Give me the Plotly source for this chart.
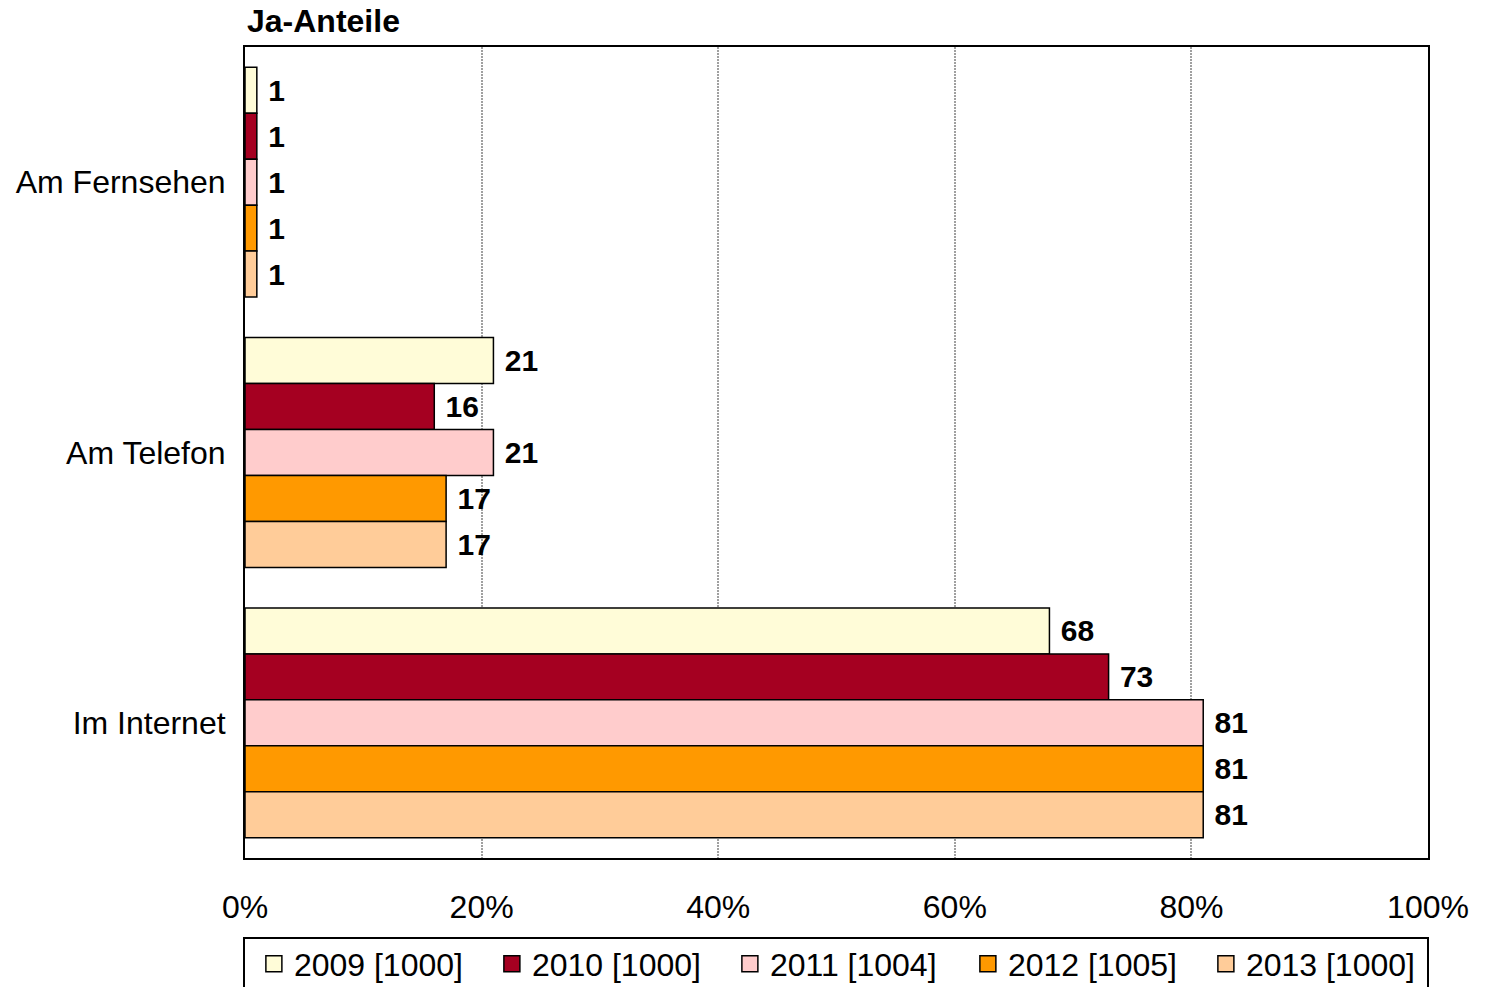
import plotly.graph_objects as go

# Data
categories = ["Am Fernsehen", "Am Telefon", "Im Internet"]
series_names = ["2009 [1000]", "2010 [1000]", "2011 [1004]", "2012 [1005]", "2013 [1000]"]
values_2009 = [1, 21, 68]
values_2010 = [1, 16, 73]
values_2011 = [1, 21, 81]
values_2012 = [1, 17, 81]
values_2013 = [1, 17, 81]
x_ticks = [0, 20, 40, 60, 80, 100]
x_tick_labels = ["0%", "20%", "40%", "60%", "80%", "100%"]

series_values = [values_2009, values_2010, values_2011, values_2012, values_2013]
colors = ["#FFFCD8", "#A50021", "#FFCCCC", "#FF9900", "#FFCC99"]

FONT = "Liberation Sans, Arial, sans-serif"
FS = 32        # axis, title and legend text
FS_LABEL = 30  # value labels next to bars

fig = go.Figure()

for name, vals, col in zip(series_names, series_values, colors):
    fig.add_trace(go.Bar(
        y=categories, x=vals, orientation="h", name=name,
        marker=dict(color=col, line=dict(color="black", width=1.5)),
        text=[f"<b>\u00a0{v}</b>" for v in vals], textposition="outside",
        textfont=dict(family=FONT, size=FS_LABEL, color="black"),
        constraintext="none", cliponaxis=False, showlegend=False,
    ))

# Legend entries with larger square swatches
for name, col in zip(series_names, colors):
    fig.add_trace(go.Scatter(
        x=[None], y=[None], mode="markers", name=name,
        marker=dict(symbol="square", size=18, color=col,
                    line=dict(color="black", width=1.5)),
        showlegend=True,
    ))

W, H = 1492, 987
L, R, T, B = 245, 64, 47, 129
pw, ph = W - L - R, H - T - B

def px_x(p):
    return (p - L) / pw

def px_y(p):
    return (H - B - p) / ph

fig.update_layout(
    width=W, height=H,
    margin=dict(l=L, r=R, t=T, b=B, autoexpand=False),
    paper_bgcolor="white", plot_bgcolor="white",
    barmode="group", bargap=0.15, bargroupgap=0,
    font=dict(family=FONT, size=FS, color="black"),
    title=dict(text="<b>Ja-Anteile</b>", x=px_x(247), xref="paper", xanchor="left",
               y=1 - 21 / H, yanchor="middle",
               font=dict(family=FONT, size=FS, color="black")),
    legend=dict(orientation="h", x=-0.0001, xanchor="left",
                y=px_y(964), yanchor="middle", indentation=9,
                bgcolor="rgba(0,0,0,0)", borderwidth=0,
                entrywidth=184, entrywidthmode="pixels", tracegroupgap=0,
                font=dict(family=FONT, size=FS, color="black"),
                itemclick=False, itemdoubleclick=False),
    shapes=[dict(type="rect", xref="paper", yref="paper",
                 x0=px_x(244), x1=px_x(1428), y0=px_y(938), y1=px_y(1000),
                 line=dict(color="black", width=2), fillcolor="rgba(0,0,0,0)",
                 layer="above")],
)

fig.update_xaxes(
    range=[0, 100], tickvals=x_ticks, ticktext=x_tick_labels,
    showgrid=True, gridcolor="#a0a0a0", gridwidth=2, griddash="2px,1px",
    showline=True, mirror=True, linecolor="black", linewidth=2,
    zeroline=False, ticks="outside", ticklen=0, ticklabelstandoff=20,
    tickfont=dict(family=FONT, size=FS, color="black"),
)
fig.update_yaxes(
    autorange="reversed", showgrid=False,
    showline=True, mirror=True, linecolor="black", linewidth=2,
    ticks="outside", ticklen=0, ticklabelstandoff=11,
    tickfont=dict(family=FONT, size=FS, color="black"),
)

fig.write_html("out.html")
